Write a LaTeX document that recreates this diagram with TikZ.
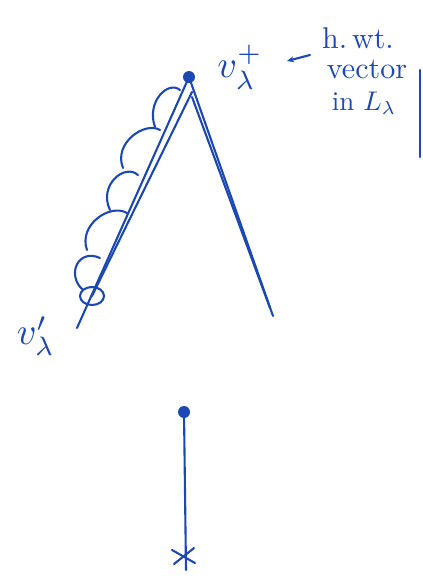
\documentclass[tikz,border=0pt]{standalone}
\usepackage{graphicx}
\usetikzlibrary{arrows.meta,calc,shapes.geometric}
\definecolor{ink}{RGB}{28,72,180}
\begin{document}
\begin{tikzpicture}[x=1pt,y=-1pt,
  pen/.style={draw=ink,line width=2.1pt,line cap=round,line join=round},
  dotnode/.style={circle,fill=ink,inner sep=0pt,minimum size=12pt},
  lbl/.style={text=ink,inner sep=0pt}]
\useasboundingbox (0,0) rectangle (423,579);
% apex and ends
\node[dotnode] (top) at (189,77) {};
\coordinate (lend) at (77,328);
\coordinate (rend) at (273,316);
\node[ellipse,draw=ink,line width=2.1pt,inner sep=0pt,minimum width=24pt,minimum height=18pt] (ring) at (92,296) {};
% double lines
\draw[pen] (top.center) -- (lend);
\draw[pen] (192,92) -- (ring.center);
\draw[pen] (top.center) -- (rend);
\draw[pen] (192,97) -- (270,308);
% scallops
\draw[pen] (83,290) .. controls (66,275) and (78,248) .. (100,258);
\draw[pen] (87,250) .. controls (78,225) and (110,203) .. (127,213);
\draw[pen] (110,210) .. controls (98,185) and (125,163) .. (138,175);
\draw[pen] (123,168) .. controls (113,143) and (145,121) .. (160,130);
\draw[pen] (155,127) .. controls (146,102) and (168,80) .. (180,90);
% bottom
\node[dotnode] (bdot) at (184,412) {};
\coordinate (bend) at (186,570);
\coordinate (xc) at (184,556);
\draw[pen] (bdot.center) -- (bend);
\draw[pen] ($(xc)+(-12,-6)$) -- ($(xc)+(11,7)$);
\draw[pen] ($(xc)+(-10,8)$) -- ($(xc)+(10,-8)$);
% labels
\node[lbl] (vplus) at (240,67) {\scalebox{3.8}{$v_\lambda^+$}};
\node[lbl] (vprime) at (36,336) {\scalebox{3.8}{$v'_\lambda$}};
\node[lbl] (hwt) at (358,38) {\scalebox{3}{h.\,wt.}};
\node[lbl] (vec) at (367,69) {\scalebox{3}{vector}};
\node[lbl] (inL) at (364,103) {\scalebox{2.7}{in $L_\lambda$}};
\draw[pen,-{Stealth[length=7pt,width=6pt]}] (310,55) -- (287,61);
\draw[pen] (420,70) -- (420,157);
\end{tikzpicture}
\end{document}
